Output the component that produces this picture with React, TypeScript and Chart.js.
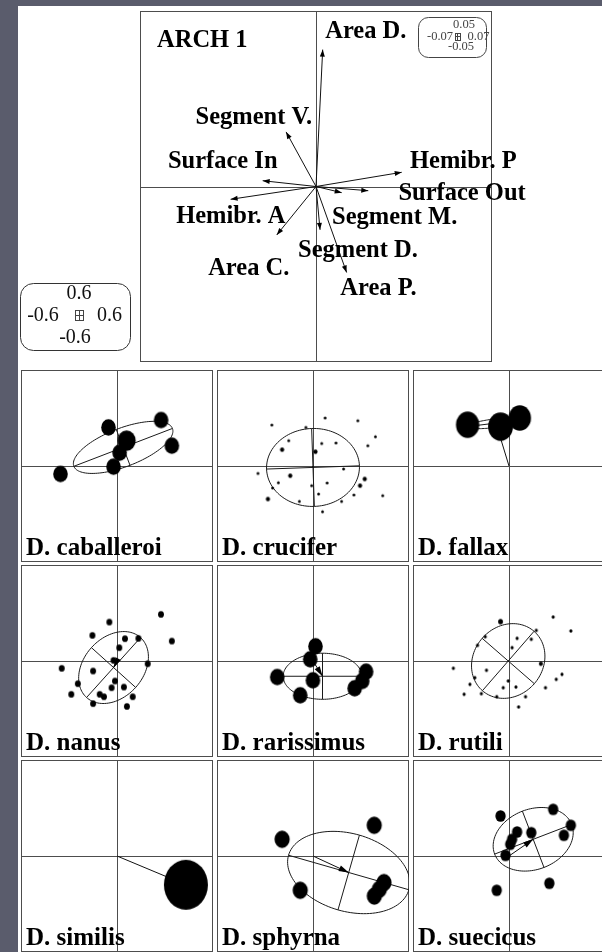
import { useEffect, useRef } from "react";
import { Chart, registerables } from "chart.js";

Chart.register(...registerables);

type Pt = [number, number];

// ---------- ARCH 1: variable vectors on the first factorial plane ----------
const variableNames = ["Area D.", "Segment V.", "Surface In", "Hemibr. P", "Hemibr. A", "Area C.", "Segment M.", "Surface Out", "Segment D.", "Area P."];
const loadingX = [0.038, -0.17, -0.303, 0.487, -0.485, -0.223, 0.146, 0.297, 0.023, 0.174];
const loadingY = [0.78, 0.311, 0.033, 0.081, -0.073, -0.276, -0.035, -0.024, -0.247, -0.49];
// label anchors (centre x, baseline y) in plane units
const labelX = [0.283, -0.353, -0.53, 0.837, -0.484, -0.382, 0.447, 0.83, 0.238, 0.355];
const labelY = [0.844, 0.356, 0.105, 0.105, -0.208, -0.504, -0.214, -0.077, -0.402, -0.618];

const planeTitle = "ARCH 1";
const scaleLegend = ["0.6", "-0.6", "0.6", "-0.6"]; // top, left, right, bottom
const insetLegend = ["0.05", "-0.07", "0.07", "-0.05"];

// ---------- species scores (one panel per species) ----------
const caballeroi: Pt[] = [[-0.089, 0.402], [0.459, 0.479], [0.1, 0.264], [0.027, 0.139], [0.571, 0.212], [-0.036, -0.007], [-0.589, -0.083]];
const caballeroiW = [0.11, 0.11, 0.17, 0.11, 0.11, 0.11, 0.11];

const crucifer: Pt[] = [[-0.429, 0.427], [-0.074, 0.402], [0.126, 0.5], [0.467, 0.472], [-0.253, 0.264], [0.091, 0.235], [0.239, 0.24], [0.65, 0.305], [0.571, 0.211], [-0.322, 0.17], [0.026, 0.149], [0.319, -0.031], [-0.573, -0.077], [-0.237, -0.101], [0.539, -0.135], [0.49, -0.205], [-0.361, -0.174], [-0.014, -0.205], [0.147, -0.177], [-0.421, -0.229], [0.726, -0.309], [-0.47, -0.344], [-0.142, -0.369], [0.058, -0.292], [0.426, -0.302], [0.298, -0.369], [0.099, -0.476]];
const cruciferW = [0.004, 0.004, 0.004, 0.004, 0.004, 0.004, 0.004, 0.004, 0.004, 0.009, 0.009, 0.004, 0.004, 0.009, 0.009, 0.009, 0.004, 0.004, 0.004, 0.004, 0.004, 0.009, 0.004, 0.004, 0.004, 0.004, 0.004];

const fallax: Pt[] = [[-0.431, 0.43], [-0.088, 0.41], [0.112, 0.5]];
const fallaxW = [0.28, 0.32, 0.26];

const nanus: Pt[] = [[0.458, 0.486], [-0.08, 0.406], [0.571, 0.208], [-0.256, 0.267], [0.083, 0.233], [0.223, 0.236], [0.024, 0.139], [-0.036, 0.007], [0.32, -0.028], [-0.576, -0.076], [-0.249, -0.104], [-0.021, -0.208], [-0.408, -0.236], [-0.056, -0.278], [0.072, -0.271], [-0.476, -0.347], [-0.18, -0.347], [-0.136, -0.372], [0.164, -0.372], [-0.249, -0.444], [0.103, -0.473]];
const nanusW = nanus.map(() => 0.018);

const rarissimus: Pt[] = [[0.026, 0.153], [-0.029, 0.018], [-0.373, -0.167], [-0.001, -0.201], [-0.133, -0.357], [0.553, -0.111], [0.513, -0.208], [0.434, -0.284]];
const rarissimusW = rarissimus.map(() => 0.11);

const rutili: Pt[] = [[-0.088, 0.41], [0.46, 0.458], [0.644, 0.313], [-0.248, 0.253], [0.084, 0.236], [0.232, 0.226], [0.284, 0.319], [0.032, 0.139], [-0.328, 0.163], [0.332, -0.028], [-0.58, -0.076], [-0.235, -0.097], [-0.356, -0.174], [0.552, -0.139], [0.492, -0.191], [-0.008, -0.208], [-0.407, -0.243], [0.072, -0.271], [-0.06, -0.278], [0.38, -0.278], [-0.468, -0.347], [-0.288, -0.34], [-0.128, -0.372], [0.172, -0.372], [0.1, -0.479]];
const rutiliW = [0.012, 0.005, 0.005, 0.005, 0.005, 0.005, 0.005, 0.005, 0.005, 0.008, 0.005, 0.005, 0.005, 0.005, 0.005, 0.005, 0.005, 0.005, 0.005, 0.005, 0.005, 0.005, 0.005, 0.005, 0.005];

const similis: Pt[] = [[0.718, -0.3]];
const similisW = [1];

const sphyrna: Pt[] = [[-0.322, 0.174], [0.638, 0.32], [-0.133, -0.357], [0.739, -0.277], [0.691, -0.347], [0.639, -0.417]];
const sphyrnaW = sphyrna.map(() => 0.12);

const suecicus: Pt[] = [[-0.088, 0.417], [0.46, 0.486], [0.644, 0.32], [0.572, 0.216], [0.084, 0.25], [0.232, 0.243], [0.032, 0.174], [0.013, 0.122], [-0.036, 0.007], [-0.128, -0.357], [0.42, -0.284]];
const suecicusW = suecicus.map(() => 0.055);

const speciesNames = ["D. caballeroi", "D. crucifer", "D. fallax", "D. nanus", "D. rarissimus", "D. rutili", "D. similis", "D. sphyrna", "D. suecicus"];
const speciesPoints = [caballeroi, crucifer, fallax, nanus, rarissimus, rutili, similis, sphyrna, suecicus];
const speciesWeights = [caballeroiW, cruciferW, fallaxW, nanusW, rarissimusW, rutiliW, similisW, sphyrnaW, suecicusW];

// class centroid and inertia ellipse (semi-axes, tilt in degrees)
const centroidX = [0.064, 0, -0.136, -0.036, 0.099, -0.008, 0.718, 0.372, 0.252];
const centroidY = [0.194, -0.015, 0.447, -0.068, -0.159, 0, -0.3, -0.172, 0.174];
const ellipseA = [0.55, 0.484, 0.31, 0.42, 0.41, 0.41, 0, 0.652, 0.43];
const ellipseB = [0.2, 0.406, 0.045, 0.31, 0.24, 0.36, 0, 0.405, 0.314];
const ellipseTilt = [21, 2, 7, 48, 0, 49, 0, -16, 21];

// ---------- layout ----------
const PAGE_W = 602;
const PAGE_H = 952;
const TOP_BOX = { left: 18, top: 6, width: 584, height: 360 };
const TOP_PAD = { left: 122, top: 5, right: 110, bottom: 4 };
const PANEL_LEFT = [21, 217, 413];
const PANEL_TOP = [370, 565, 760];
const PANEL_SIZE = 192;

const SERIF = '"Liberation Serif", "Times New Roman", Times, serif';
const LINE_GREY = "#4d4d4d";
const DOT_FULL = 50; // height in px of a dot with weight 1
const DOT_ASPECT = 0.88;

const dotCache = new Map<string, HTMLCanvasElement>();
function dotImage(weight: number): HTMLCanvasElement {
  const h = DOT_FULL * Math.sqrt(weight);
  const w = h * DOT_ASPECT;
  const key = h.toFixed(2);
  const hit = dotCache.get(key);
  if (hit) return hit;
  const c = document.createElement("canvas");
  c.width = Math.ceil(w) + 2;
  c.height = Math.ceil(h) + 2;
  const g = c.getContext("2d")!;
  g.fillStyle = "#000";
  g.beginPath();
  g.ellipse(c.width / 2, c.height / 2, w / 2, h / 2, 0, 0, Math.PI * 2);
  g.fill();
  dotCache.set(key, c);
  return c;
}

function arrowHead(ctx: CanvasRenderingContext2D, x0: number, y0: number, x1: number, y1: number, len: number, half: number) {
  const dx = x1 - x0;
  const dy = y1 - y0;
  const L = Math.hypot(dx, dy);
  if (L < 4) return;
  const ux = dx / L;
  const uy = dy / L;
  const bx = x1 - ux * len;
  const by = y1 - uy * len;
  ctx.beginPath();
  ctx.moveTo(x1, y1);
  ctx.lineTo(bx - uy * half, by + ux * half);
  ctx.lineTo(bx + uy * half, by - ux * half);
  ctx.closePath();
  ctx.fill();
}

function roundBox(ctx: CanvasRenderingContext2D, x: number, y: number, w: number, h: number, r: number) {
  ctx.beginPath();
  ctx.moveTo(x + r, y);
  ctx.arcTo(x + w, y, x + w, y + h, r);
  ctx.arcTo(x + w, y + h, x, y + h, r);
  ctx.arcTo(x, y + h, x, y, r);
  ctx.arcTo(x, y, x + w, y, r);
  ctx.closePath();
  ctx.stroke();
}

function miniFrame(ctx: CanvasRenderingContext2D, cx: number, cy: number, w: number, h: number) {
  ctx.strokeRect(Math.round(cx - w / 2) + 0.5, Math.round(cy - h / 2) + 0.5, w, h);
  ctx.beginPath();
  ctx.moveTo(Math.round(cx - w / 2), Math.round(cy) + 0.5);
  ctx.lineTo(Math.round(cx + w / 2) + 1, Math.round(cy) + 0.5);
  ctx.moveTo(Math.round(cx) + 0.5, Math.round(cy - h / 2));
  ctx.lineTo(Math.round(cx) + 0.5, Math.round(cy + h / 2) + 1);
  ctx.stroke();
}

function frameAndAxes(chart: any) {
  const { ctx, chartArea: a, scales } = chart;
  const x0 = Math.round(scales.x.getPixelForValue(0)) + 0.5;
  const y0 = Math.round(scales.y.getPixelForValue(0)) + 0.5;
  ctx.save();
  ctx.strokeStyle = LINE_GREY;
  ctx.lineWidth = 1;
  ctx.strokeRect(a.left + 0.5, a.top + 0.5, a.right - a.left - 1, a.bottom - a.top - 1);
  ctx.beginPath();
  ctx.moveTo(a.left, y0);
  ctx.lineTo(a.right, y0);
  ctx.moveTo(x0, a.top);
  ctx.lineTo(x0, a.bottom);
  ctx.stroke();
  ctx.restore();
}

const archPlugin = {
  id: "archPlane",
  beforeDatasetsDraw(chart: any) {
    frameAndAxes(chart);
  },
  afterDatasetsDraw(chart: any) {
    const { ctx, chartArea: a, scales } = chart;
    const px = (v: number) => scales.x.getPixelForValue(v);
    const py = (v: number) => scales.y.getPixelForValue(v);
    const ox = px(0);
    const oy = py(0);
    ctx.save();
    ctx.fillStyle = "#000";
    loadingX.forEach((vx, i) => arrowHead(ctx, ox, oy, px(vx), py(loadingY[i]), 7, 2.5));

    ctx.font = `bold 24.5px ${SERIF}`;
    ctx.textBaseline = "alphabetic";
    ctx.textAlign = "center";
    variableNames.forEach((n, i) => ctx.fillText(n, px(labelX[i]), py(labelY[i])));
    ctx.textAlign = "left";
    ctx.fillText(planeTitle, a.left + 17, a.top + 35.7);

    // scale box, lower left
    ctx.strokeStyle = "#333";
    ctx.lineWidth = 1;
    roundBox(ctx, 2.5, 277.5, 110, 67, 13);
    ctx.fillStyle = "#111";
    ctx.font = `20px ${SERIF}`;
    ctx.textAlign = "center";
    ctx.fillText(scaleLegend[0], 61, 293);
    ctx.fillText(scaleLegend[1], 25, 315);
    ctx.fillText(scaleLegend[2], 91.5, 315);
    ctx.fillText(scaleLegend[3], 57, 337);
    ctx.strokeStyle = "#444";
    miniFrame(ctx, 61, 309, 8, 10);

    // inset box, upper right
    ctx.strokeStyle = "#444";
    roundBox(ctx, 400.5, 11.5, 68, 40, 10);
    ctx.fillStyle = "#444";
    ctx.font = `12.5px ${SERIF}`;
    ctx.fillText(insetLegend[0], 446, 22);
    ctx.fillText(insetLegend[1], 422, 34);
    ctx.fillText(insetLegend[2], 460.5, 34);
    ctx.fillText(insetLegend[3], 443, 44);
    miniFrame(ctx, 439, 30, 5, 7);
    ctx.restore();
  },
};

function panelPlugin(i: number) {
  return {
    id: "speciesPanel" + i,
    beforeDatasetsDraw(chart: any) {
      frameAndAxes(chart);
      const A = ellipseA[i];
      const B = ellipseB[i];
      if (A <= 0) return;
      const { ctx, scales } = chart;
      const px = (v: number) => scales.x.getPixelForValue(v);
      const py = (v: number) => scales.y.getPixelForValue(v);
      const cx = centroidX[i];
      const cy = centroidY[i];
      const t = (ellipseTilt[i] * Math.PI) / 180;
      const ct = Math.cos(t);
      const st = Math.sin(t);
      ctx.save();
      ctx.strokeStyle = "#1a1a1a";
      ctx.lineWidth = 1;
      ctx.beginPath();
      const N = 120;
      for (let k = 0; k <= N; k++) {
        const th = (2 * Math.PI * k) / N;
        const ex = cx + A * Math.cos(th) * ct - B * Math.sin(th) * st;
        const ey = cy + A * Math.cos(th) * st + B * Math.sin(th) * ct;
        if (k === 0) ctx.moveTo(px(ex), py(ey));
        else ctx.lineTo(px(ex), py(ey));
      }
      ctx.moveTo(px(cx - A * ct), py(cy - A * st));
      ctx.lineTo(px(cx + A * ct), py(cy + A * st));
      ctx.moveTo(px(cx + B * st), py(cy - B * ct));
      ctx.lineTo(px(cx - B * st), py(cy + B * ct));
      ctx.stroke();
      ctx.restore();
    },
    afterDatasetsDraw(chart: any) {
      const { ctx, chartArea: a, scales } = chart;
      ctx.save();
      ctx.fillStyle = "#000";
      arrowHead(
        ctx,
        scales.x.getPixelForValue(0),
        scales.y.getPixelForValue(0),
        scales.x.getPixelForValue(centroidX[i]),
        scales.y.getPixelForValue(centroidY[i]),
        10,
        3
      );
      ctx.font = `bold 25px ${SERIF}`;
      ctx.textAlign = "left";
      ctx.textBaseline = "alphabetic";
      ctx.fillText(speciesNames[i], a.left + 5, a.bottom - 7);
      ctx.restore();
    },
  };
}

const baseOptions = (padding: any) => ({
  animation: false as const,
  responsive: false,
  maintainAspectRatio: false,
  events: [] as any[],
  layout: { padding, autoPadding: false },
  scales: {
    x: { type: "linear" as const, min: -1, max: 1, display: false },
    y: { type: "linear" as const, min: -1, max: 1, display: false },
  },
  plugins: { legend: { display: false }, tooltip: { enabled: false } },
});

function archConfig(): any {
  return {
    type: "scatter",
    data: {
      datasets: variableNames.map((n, i) => ({
        label: n,
        data: [
          { x: 0, y: 0 },
          { x: loadingX[i], y: loadingY[i] },
        ],
        showLine: true,
        borderColor: "#111",
        borderWidth: 1,
        pointRadius: 0,
      })),
    },
    options: baseOptions(TOP_PAD),
    plugins: [archPlugin],
  };
}

function panelConfig(i: number): any {
  const pts = speciesPoints[i];
  const wts = speciesWeights[i];
  return {
    type: "scatter",
    data: {
      datasets: [
        {
          label: speciesNames[i],
          data: pts.map(([x, y]) => ({ x, y })),
          pointStyle: (c: any) => dotImage(wts[c.dataIndex] ?? wts[0]),
          pointRadius: (c: any) => Math.max(1, (DOT_FULL * Math.sqrt(wts[c.dataIndex] ?? wts[0])) / 2),
          showLine: false,
        },
        {
          label: "centroid",
          data: [
            { x: 0, y: 0 },
            { x: centroidX[i], y: centroidY[i] },
          ],
          showLine: true,
          borderColor: "#111",
          borderWidth: 1,
          pointRadius: 0,
        },
      ],
    },
    options: baseOptions(0),
    plugins: [panelPlugin(i)],
  };
}

export default function App() {
  const topRef = useRef<HTMLCanvasElement | null>(null);
  const panelRefs = useRef<(HTMLCanvasElement | null)[]>([]);

  useEffect(() => {
    document.body.style.margin = "0";
    const charts: Chart[] = [];
    if (topRef.current) charts.push(new Chart(topRef.current, archConfig()));
    panelRefs.current.forEach((c, i) => {
      if (c) charts.push(new Chart(c, panelConfig(i)));
    });
    return () => charts.forEach((c) => c.destroy());
  }, []);

  return (
    <div
      style={{
        position: "absolute",
        left: 0,
        top: 0,
        width: PAGE_W,
        height: PAGE_H,
        overflow: "hidden",
        background: "#5a5c6c",
      }}
    >
      <div style={{ position: "absolute", left: 18, top: 6, right: 0, bottom: 0, background: "#fff" }} />
      <canvas
        ref={topRef}
        width={TOP_BOX.width}
        height={TOP_BOX.height}
        style={{ position: "absolute", left: TOP_BOX.left, top: TOP_BOX.top, width: TOP_BOX.width, height: TOP_BOX.height }}
      />
      {speciesNames.map((n, i) => (
        <canvas
          key={n}
          ref={(el) => {
            panelRefs.current[i] = el;
          }}
          width={PANEL_SIZE}
          height={PANEL_SIZE}
          style={{
            position: "absolute",
            left: PANEL_LEFT[i % 3],
            top: PANEL_TOP[Math.floor(i / 3)],
            width: PANEL_SIZE,
            height: PANEL_SIZE,
          }}
        />
      ))}
    </div>
  );
}
